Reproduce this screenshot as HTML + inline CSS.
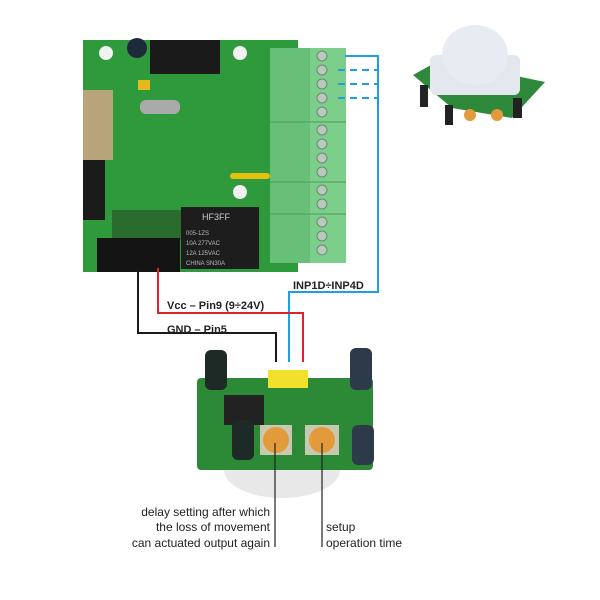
<!DOCTYPE html>
<html><head><meta charset="utf-8"><style>
html,body{margin:0;padding:0;background:#fff;}
svg{display:block;}
text{font-family:"Liberation Sans",sans-serif;}
</style></head><body>
<svg width="600" height="600" viewBox="0 0 600 600" xmlns="http://www.w3.org/2000/svg">
<!-- main board -->
<rect x="83" y="40" width="215" height="232" fill="#2e9a3c"/>
<rect x="83" y="90" width="30" height="70" fill="#b8a47a"/>
<rect x="83" y="160" width="22" height="60" fill="#1b1b1b"/>
<rect x="150" y="40" width="70" height="34" fill="#1a1a1a"/>
<circle cx="137" cy="48" r="10" fill="#1c2a3a"/>
<circle cx="106" cy="53" r="7" fill="#f2f2f2"/>
<circle cx="240" cy="53" r="7" fill="#f2f2f2"/>
<circle cx="240" cy="192" r="7" fill="#f2f2f2"/>
<rect x="140" y="100" width="40" height="14" rx="6" fill="#aaa"/>
<rect x="138" y="80" width="12" height="10" fill="#e6b820"/>
<rect x="230" y="173" width="40" height="6" rx="3" fill="#e6c010"/>
<rect x="112" y="210" width="70" height="30" fill="#2a6b2e"/>
<rect x="181" y="207" width="78" height="62" fill="#1d1d1d"/>
<text x="202" y="220" font-size="9" fill="#ccc">HF3FF</text>
<text x="186" y="235" font-size="6" fill="#bbb">005-1ZS</text>
<text x="186" y="245" font-size="6" fill="#bbb">10A 277VAC</text>
<text x="186" y="255" font-size="6" fill="#bbb">12A 125VAC</text>
<text x="186" y="265" font-size="6" fill="#bbb">CHINA  SN30A</text>
<rect x="97" y="238" width="83" height="34" fill="#141414"/>
<!-- terminal block -->
<rect x="270" y="48" width="76" height="215" fill="#7ccf8a"/>
<rect x="270" y="48" width="40" height="215" fill="#68c078"/>
<g fill="#b9c9bd" stroke="#6a8a70" stroke-width="1">
<circle cx="322" cy="56" r="5"/><circle cx="322" cy="70" r="5"/><circle cx="322" cy="84" r="5"/><circle cx="322" cy="98" r="5"/><circle cx="322" cy="112" r="5"/>
<circle cx="322" cy="130" r="5"/><circle cx="322" cy="144" r="5"/><circle cx="322" cy="158" r="5"/><circle cx="322" cy="172" r="5"/>
<circle cx="322" cy="190" r="5"/><circle cx="322" cy="204" r="5"/>
<circle cx="322" cy="222" r="5"/><circle cx="322" cy="236" r="5"/><circle cx="322" cy="250" r="5"/>
</g>
<line x1="270" y1="122" x2="346" y2="122" stroke="#4e9a5a"/>
<line x1="270" y1="182" x2="346" y2="182" stroke="#4e9a5a"/>
<line x1="270" y1="214" x2="346" y2="214" stroke="#4e9a5a"/>
<!-- wires -->
<polyline points="345,56 378,56 378,292 289,292 289,362" fill="none" stroke="#1ea0e0" stroke-width="2"/>
<g stroke="#1ea0e0" stroke-width="2" stroke-dasharray="7,5">
<line x1="338" y1="70" x2="378" y2="70"/><line x1="338" y1="84" x2="378" y2="84"/><line x1="338" y1="98" x2="378" y2="98"/>
</g>
<polyline points="158,268 158,313 303,313 303,362" fill="none" stroke="#e0202a" stroke-width="2"/>
<polyline points="138,270 138,333 276,333 276,362" fill="none" stroke="#1a1a1a" stroke-width="2"/>
<text x="293" y="289" font-size="11" font-weight="bold" fill="#222">INP1D÷INP4D</text>
<text x="167" y="309" font-size="11" font-weight="bold" fill="#222">Vcc   – Pin9 (9÷24V)</text>
<text x="167" y="333" font-size="11" font-weight="bold" fill="#222">GND – Pin5</text>
<!-- PIR board -->
<ellipse cx="282" cy="470" rx="58" ry="28" fill="#e8e8e8"/>
<rect x="197" y="378" width="176" height="92" rx="4" fill="#2c8a36"/>
<rect x="268" y="370" width="40" height="18" fill="#f2e12a"/>
<rect x="224" y="395" width="40" height="30" fill="#222"/>
<rect x="205" y="350" width="22" height="40" rx="6" fill="#1e2a26"/>
<rect x="350" y="348" width="22" height="42" rx="6" fill="#2c3a4a"/>
<rect x="232" y="420" width="22" height="40" rx="6" fill="#1e2a26"/>
<rect x="352" y="425" width="22" height="40" rx="6" fill="#2c3a4a"/>
<rect x="260" y="425" width="32" height="30" fill="#c8c8b0"/>
<rect x="305" y="425" width="34" height="30" fill="#c8c8b0"/>
<circle cx="276" cy="440" r="13" fill="#e39a3a"/>
<circle cx="322" cy="440" r="13" fill="#e39a3a"/>
<line x1="275" y1="443" x2="275" y2="547" stroke="#222" stroke-width="1.2"/>
<line x1="322" y1="443" x2="322" y2="547" stroke="#222" stroke-width="1.2"/>
<g font-size="12" fill="#222">
<text x="270" y="516" text-anchor="end">delay setting after which</text>
<text x="270" y="531" text-anchor="end">the loss of movement</text>
<text x="270" y="547" text-anchor="end">can actuated output again</text>
<text x="326" y="531">setup</text>
<text x="326" y="547">operation time</text>
</g>
<!-- top right PIR photo -->
<polygon points="413,75 440,60 545,82 512,118 452,108" fill="#2e8a3a"/>
<rect x="430" y="55" width="90" height="40" rx="6" fill="#e3e8ee"/>
<ellipse cx="475" cy="55" rx="33" ry="30" fill="#e8ecf2"/>
<rect x="420" y="85" width="8" height="22" fill="#222"/>
<rect x="445" y="105" width="8" height="20" fill="#222"/>
<rect x="513" y="98" width="9" height="20" fill="#222"/>
<circle cx="470" cy="115" r="6" fill="#e39a3a"/>
<circle cx="497" cy="115" r="6" fill="#e39a3a"/>
</svg>
</body></html>
